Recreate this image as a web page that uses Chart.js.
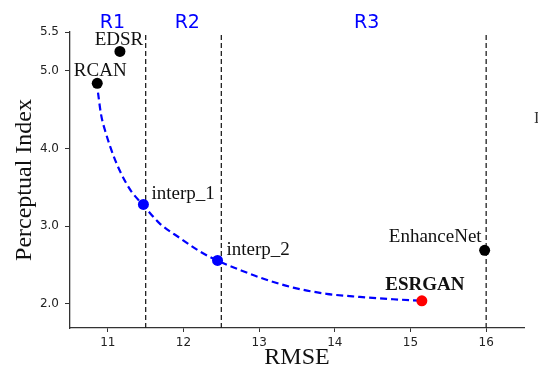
<!DOCTYPE html>
<html>
<head>
<meta charset="utf-8">
<script src="https://cdn.jsdelivr.net/npm/chart.js@4.4.1/dist/chart.umd.min.js"></script>
<style>
  html, body { margin: 0; padding: 0; background: #fff; }
  #wrap { width: 538px; height: 372px; position: relative; }
</style>
</head>
<body>
<div id="wrap"><canvas id="piChart"></canvas></div>
<script>
// methods shown as dots
const methods = ['RCAN', 'EDSR', 'interp_1', 'interp_2', 'ESRGAN', 'EnhanceNet'];
const methodRmse = [10.86, 11.16, 11.47, 12.45, 15.15, 15.98];
const methodPI = [4.84, 5.25, 3.28, 2.56, 2.04, 2.69];

// network interpolation curve (RCAN-ish start -> ESRGAN)
const curveRmse = [10.87, 10.91, 10.98, 11.07, 11.18, 11.31, 11.47, 11.68, 11.95, 12.21, 12.44, 12.74, 13.01, 13.45, 13.89, 14.33, 14.77, 15.15];
const curvePI = [4.72, 4.44, 4.18, 3.92, 3.67, 3.45, 3.27, 3.04, 2.85, 2.68, 2.56, 2.44, 2.34, 2.21, 2.13, 2.09, 2.06, 2.04];

// region boundaries and names
const regionBounds = [11.5, 12.5, 16];
const regionNames = ['R1', 'R2', 'R3'];
const regionLabelX = [11.06, 12.05, 14.42];

const xTicks = [11, 12, 13, 14, 15, 16];
const yTicks = [2.0, 3.0, 4.0, 5.0, 5.5];
const xMin = 10.5, xMax = 16.5, yMin = 1.69, yMax = 5.5;

// styling
const pointColors = ['#000', '#000', '#0000ff', '#0000ff', '#ff0000', '#000'];
const labelStyle = [
    { dx: 3, dy: -7, align: 'center' },
    { dx: -1, dy: -6, align: 'center' },
    { dx: 8, dy: -5, align: 'left' },
    { dx: 9, dy: -5, align: 'left' },
    { dx: 3, dy: -11, align: 'center', bold: true },
    { dx: -3, dy: -8, align: 'right' }
];

Chart.defaults.font.family = '"DejaVu Sans", sans-serif';
Chart.defaults.color = '#222';

const labelPlugin = {
    id: 'labels',
    afterDatasetsDraw(chart) {
        const ctx = chart.ctx, xs = chart.scales.x, ys = chart.scales.y;
        ctx.save();
        ctx.textBaseline = 'alphabetic';
        ctx.fillStyle = '#111';
        methods.forEach((m, i) => {
            const s = labelStyle[i];
            ctx.font = (s.bold ? 'bold ' : '') + '19px "Liberation Serif", serif';
            ctx.textAlign = s.align;
            ctx.fillText(m, xs.getPixelForValue(methodRmse[i]) + s.dx, ys.getPixelForValue(methodPI[i]) + s.dy);
        });
        ctx.font = '19px "DejaVu Sans", sans-serif';
        ctx.fillStyle = '#0000ff';
        ctx.textAlign = 'center';
        regionNames.forEach((r, i) => ctx.fillText(r, xs.getPixelForValue(regionLabelX[i]), 28));
        // edge of the neighbouring panel
        ctx.font = '16px "Liberation Serif", serif';
        ctx.fillStyle = '#333';
        ctx.textAlign = 'left';
        ctx.fillText('I', 534, 123);
        ctx.restore();
    }
};

const boundaryDatasets = regionBounds.map(b => ({
    data: [{ x: b, y: yMin }, { x: b, y: yMax }],
    showLine: true, pointRadius: 0, borderColor: '#222', borderWidth: 1.3, borderDash: [5, 3], order: 3
}));

new Chart(document.getElementById('piChart').getContext('2d'), {
    type: 'scatter',
    data: {
        datasets: [
            { data: methodRmse.map((x, i) => ({ x: x, y: methodPI[i] })), pointRadius: 5.5, pointHoverRadius: 5.5,
              backgroundColor: pointColors, borderColor: pointColors, borderWidth: 0, order: 0 },
            { data: curveRmse.map((x, i) => ({ x: x, y: curvePI[i] })), showLine: true, pointRadius: 0,
              borderColor: '#0000ff', borderWidth: 2.2, borderDash: [7, 4], cubicInterpolationMode: 'monotone', order: 1 },
            ...boundaryDatasets
        ]
    },
    options: {
        responsive: true, maintainAspectRatio: false, animation: false,
        layout: { padding: { top: 32, right: 14, left: 0, bottom: 0 } },
        plugins: { legend: { display: false }, tooltip: { enabled: false } },
        scales: {
            x: {
                type: 'linear', min: xMin, max: xMax,
                afterBuildTicks: s => { s.ticks = xTicks.map(v => ({ value: v })); },
                afterFit: s => { s.height = 44; },
                ticks: { font: { size: 12 }, padding: 4, color: '#222', callback: v => v },
                grid: { drawOnChartArea: false, tickLength: 4, color: '#333' },
                border: { color: '#333', width: 1.3 },
                title: { display: true, text: 'RMSE', color: '#111', padding: 0,
                         font: { family: '"Liberation Serif", serif', size: 24, lineHeight: 1.2 } }
            },
            y: {
                type: 'linear', min: yMin, max: yMax,
                afterBuildTicks: s => { s.ticks = yTicks.map(v => ({ value: v })); },
                afterFit: s => { s.width = 70; },
                ticks: { font: { size: 12 }, padding: 6, color: '#222', callback: v => v.toFixed(1) },
                grid: { drawOnChartArea: false, tickLength: 5, color: '#333' },
                border: { color: '#333', width: 1.3 },
                title: { display: true, text: 'Perceptual Index', color: '#111', padding: { top: 10, bottom: 0 },
                         font: { family: '"Liberation Serif", serif', size: 24, lineHeight: 1.2 } }
            }
        }
    },
    plugins: [labelPlugin]
});
</script>
</body>
</html>
